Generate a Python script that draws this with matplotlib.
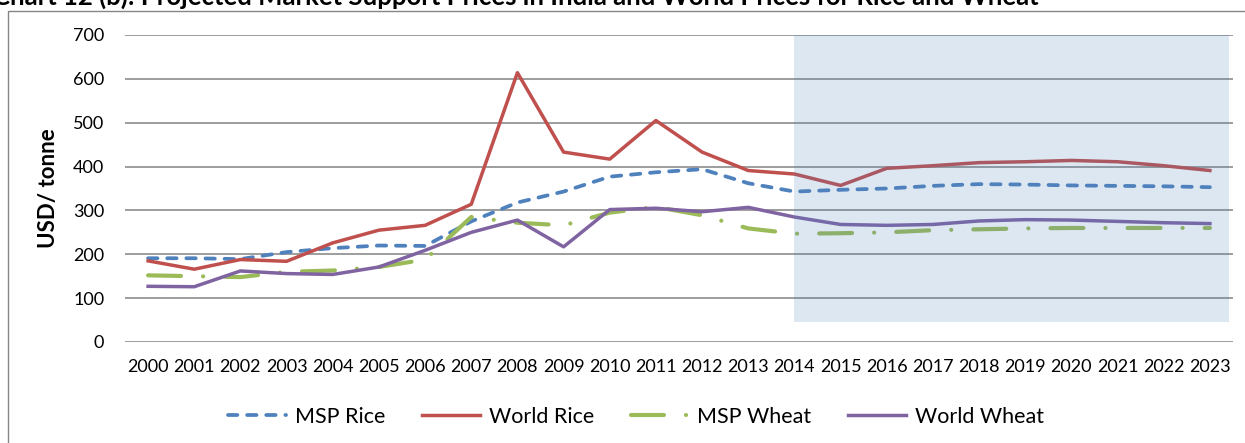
import matplotlib
matplotlib.use("Agg")
from matplotlib import pyplot as plt
from matplotlib.patches import Rectangle

plt.rcParams['font.family'] = ['Lato', 'DejaVu Sans']

years = list(range(2000, 2024))

msp_rice = [191, 191, 189, 205, 214, 220, 219, 275, 318, 343, 377, 387, 394, 362,
            343, 347, 350, 356, 360, 359, 357, 356, 355, 353]
world_rice = [185, 166, 188, 184, 226, 255, 266, 314, 614, 433, 417, 505, 433, 391,
              383, 357, 396, 402, 409, 411, 414, 411, 402, 391]
msp_wheat = [152, 150, 148, 160, 163, 171, 188, 285, 272, 266, 295, 308, 289, 259,
             247, 248, 250, 255, 257, 259, 260, 260, 260, 260]
world_wheat = [127, 126, 162, 156, 154, 171, 209, 250, 278, 217, 302, 305, 297, 307,
               285, 268, 266, 268, 276, 279, 278, 275, 272, 270]

# projection period shading
proj_years = (2014, 2023.42)
proj_values = (45, 700)

title = "Chart 12 (b): Projected Market Support Prices in India and World Prices for Rice and Wheat"

fig = plt.figure(figsize=(12.45, 4.43), dpi=100)
ax = fig.add_axes([125 / 1245, 101 / 443, 1108 / 1245, 307 / 443])

ax.plot(years, msp_rice, color='#4F81BD', lw=2.7, dashes=(2.5, 2.6),
        dash_capstyle='round', label='MSP Rice', zorder=2)
ax.plot(years, world_rice, color='#C0504D', lw=2.5, label='World Rice', zorder=2)
ax.plot(years, msp_wheat, color='#9BBB59', lw=3, dashes=(7.9, 5.3, 0.01, 5.3),
        dash_capstyle='round', label='MSP Wheat', zorder=2)
ax.plot(years, world_wheat, color='#8064A2', lw=2.5, label='World Wheat', zorder=2)

ax.fill_between(proj_years, proj_values[0], proj_values[1], color='#4F81BD',
                alpha=0.19, lw=0, zorder=3)

ax.set_xlim(1999.5, 2023.5)
ax.set_ylim(0, 700)
ax.set_yticks(range(0, 701, 100))
ax.set_xticks(years)
ax.set_xticklabels([str(y) for y in years])
ax.grid(axis='y', color='#8C8C8C', lw=1.2, zorder=0)
ax.set_axisbelow(True)
for s in ax.spines.values():
    s.set_visible(False)
ax.tick_params(axis='both', length=0, labelsize=13)
ax.tick_params(axis='y', pad=15)
ax.tick_params(axis='x', pad=12)
ax.set_ylabel('USD/ tonne', fontsize=16, fontweight='bold', labelpad=10)

fig.legend(loc='center', bbox_to_anchor=(636 / 1245, 1 - 417 / 443), ncol=4,
           frameon=False, fontsize=15.5, handlelength=2.7, handletextpad=0.4,
           columnspacing=1.7)

# outer chart frame (partly cut off)
fig.patches.append(Rectangle((8 / 1245, -0.1), 1.2, 1.1 - 11 / 443,
                             transform=fig.transFigure, fill=False,
                             edgecolor='#868686', lw=1))

fig.text(-0.006, 1 - 5 / 443, title, fontsize=18.5, fontweight='bold',
         va='baseline', ha='left')

fig.savefig('out.png', dpi=100)
